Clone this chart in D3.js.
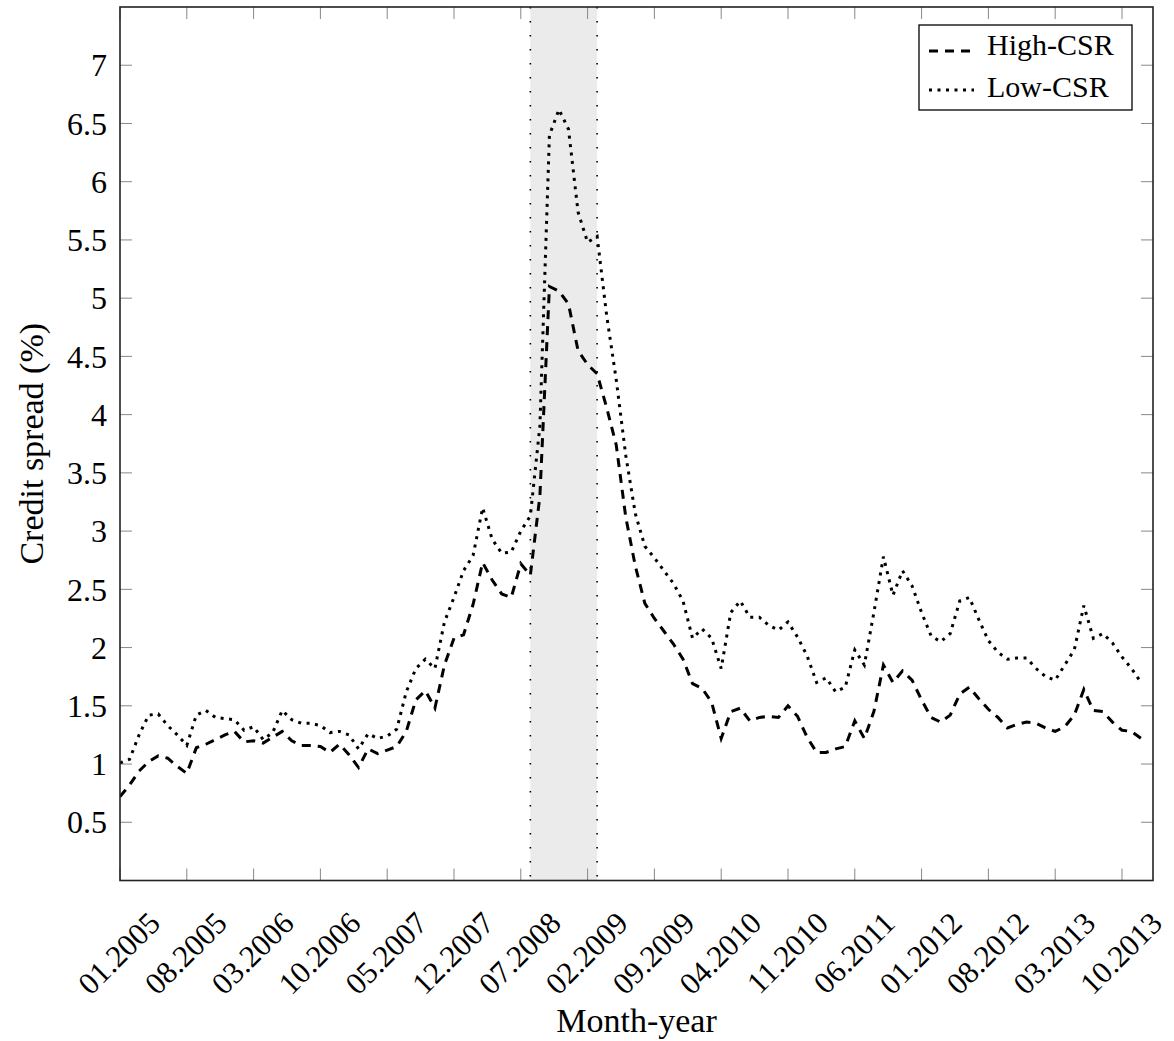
<!DOCTYPE html>
<html lang="en">
<head>
    <meta charset="UTF-8">
    <title>Credit spread</title>
    <script src="https://d3js.org/d3.v7.min.js"></script>
    <style>
        body { margin: 0; background: #fff; }
        text { font-family: "Liberation Serif", "DejaVu Serif", serif; fill: #000; }
    </style>
</head>
<body>
    <script>
        // monthly credit spreads (%), 01.2005 .. 12.2013
        var highCSR = [0.72,0.82,0.94,1.02,1.07,1.05,0.98,0.92,1.14,1.17,
            1.21,1.25,1.28,1.19,1.20,1.18,1.23,1.28,1.20,1.16,
            1.16,1.15,1.10,1.17,1.08,0.97,1.13,1.09,1.12,1.15,
            1.28,1.55,1.63,1.48,1.85,2.08,2.11,2.37,2.73,2.58,
            2.46,2.43,2.72,2.62,3.30,5.10,5.06,4.95,4.55,4.43,
            4.35,4.06,3.74,3.12,2.70,2.38,2.25,2.14,2.03,1.90,
            1.69,1.65,1.53,1.22,1.45,1.48,1.37,1.40,1.41,1.40,
            1.50,1.41,1.23,1.10,1.10,1.13,1.15,1.37,1.22,1.45,
            1.85,1.70,1.80,1.72,1.55,1.40,1.36,1.42,1.60,1.66,
            1.56,1.47,1.40,1.31,1.34,1.36,1.35,1.31,1.28,1.32,
            1.42,1.64,1.46,1.45,1.36,1.29,1.28,1.22];

        var lowCSR = [1.01,1.04,1.25,1.42,1.43,1.33,1.25,1.16,1.42,1.46,
            1.40,1.39,1.38,1.29,1.32,1.21,1.27,1.46,1.38,1.35,
            1.35,1.33,1.27,1.28,1.25,1.13,1.26,1.22,1.24,1.30,
            1.62,1.82,1.90,1.82,2.22,2.43,2.66,2.79,3.20,2.93,
            2.81,2.82,3.00,3.13,3.90,6.40,6.62,6.45,5.74,5.48,
            5.53,4.85,4.30,3.65,3.15,2.87,2.77,2.66,2.55,2.40,
            2.08,2.16,2.08,1.82,2.30,2.40,2.26,2.26,2.19,2.15,
            2.22,2.09,1.93,1.70,1.74,1.62,1.66,1.98,1.85,2.30,
            2.78,2.45,2.66,2.53,2.30,2.10,2.05,2.12,2.40,2.43,
            2.24,2.06,1.96,1.90,1.91,1.91,1.82,1.75,1.72,1.85,
            1.98,2.36,2.08,2.12,2.04,1.92,1.82,1.70];

        // x tick labels, one every 7 months from 01.2005
        var xTickLabels = ['01.2005','08.2005','03.2006','10.2006','05.2007','12.2007',
            '07.2008','02.2009','09.2009','04.2010','11.2010','06.2011',
            '01.2012','08.2012','03.2013','10.2013'];
        var yTicks = [0.5,1,1.5,2,2.5,3,3.5,4,4.5,5,5.5,6,6.5,7];
        var crisis = [43, 50]; // 08.2008 .. 03.2009 (month index)

        var width = 1174, height = 1041;
        var mLeft = 120, mRight = 1153, mTop = 7, mBottom = 880.5;

        var svg = d3.select('body').append('svg')
            .attr('width', width)
            .attr('height', height);

        var x = d3.scaleLinear().domain([0, 108.25]).range([mLeft, mRight]);
        var y = d3.scaleLinear().domain([0, 7.5]).range([mBottom, mTop]);

        svg.append('clipPath').attr('id', 'plot')
            .append('rect')
            .attr('x', mLeft).attr('y', mTop)
            .attr('width', mRight - mLeft).attr('height', mBottom - mTop);

        // shaded crisis band
        svg.append('rect')
            .attr('x', x(crisis[0]))
            .attr('y', mTop)
            .attr('width', x(crisis[1]) - x(crisis[0]))
            .attr('height', mBottom - mTop)
            .attr('fill', '#ebebeb');
        svg.selectAll('.band-edge')
            .data(crisis)
            .enter()
            .append('line')
            .attr('x1', function (d) { return x(d); })
            .attr('x2', function (d) { return x(d); })
            .attr('y1', mTop)
            .attr('y2', mBottom)
            .attr('stroke', '#000')
            .attr('stroke-width', 1.6)
            .attr('stroke-dasharray', '1.6,12.4');

        // ticks on all four sides, pointing inward
        var xTickPos = xTickLabels.map(function (d, i) { return i * 7; });
        var tickLen = 12;
        var ticks = svg.append('g').attr('stroke', '#888').attr('stroke-width', 1);
        xTickPos.forEach(function (t) {
            ticks.append('line').attr('x1', x(t)).attr('x2', x(t)).attr('y1', mBottom).attr('y2', mBottom - tickLen);
            ticks.append('line').attr('x1', x(t)).attr('x2', x(t)).attr('y1', mTop).attr('y2', mTop + tickLen);
        });
        yTicks.forEach(function (t) {
            ticks.append('line').attr('x1', mLeft).attr('x2', mLeft + tickLen).attr('y1', y(t)).attr('y2', y(t));
            ticks.append('line').attr('x1', mRight).attr('x2', mRight - tickLen).attr('y1', y(t)).attr('y2', y(t));
        });

        // lines
        var line = d3.line()
            .x(function (d, i) { return x(i); })
            .y(function (d) { return y(d); });

        var plot = svg.append('g').attr('clip-path', 'url(#plot)');
        plot.append('path')
            .datum(highCSR)
            .attr('d', line)
            .attr('fill', 'none')
            .attr('stroke', '#000')
            .attr('stroke-width', 3)
            .attr('stroke-dasharray', '9,7');
        plot.append('path')
            .datum(lowCSR)
            .attr('d', line)
            .attr('fill', 'none')
            .attr('stroke', '#000')
            .attr('stroke-width', 3)
            .attr('stroke-dasharray', '3,5.5');

        // frame
        svg.append('rect')
            .attr('x', mLeft).attr('y', mTop)
            .attr('width', mRight - mLeft).attr('height', mBottom - mTop)
            .attr('fill', 'none')
            .attr('stroke', '#222')
            .attr('stroke-width', 1.6);

        // y tick labels
        svg.selectAll('.ylab')
            .data(yTicks)
            .enter()
            .append('text')
            .attr('x', 107)
            .attr('y', function (d) { return y(d); })
            .attr('dy', '0.35em')
            .attr('text-anchor', 'end')
            .style('font-size', '32px')
            .text(function (d) { return d; });

        // x tick labels, rotated
        svg.selectAll('.xlab')
            .data(xTickLabels)
            .enter()
            .append('text')
            .attr('transform', function (d, i) {
                return 'translate(' + (x(xTickPos[i]) + 42) + ',925) rotate(-45)';
            })
            .attr('text-anchor', 'end')
            .style('font-size', '31px')
            .text(function (d) { return d; });

        // axis titles
        svg.append('text')
            .attr('x', (mLeft + mRight) / 2)
            .attr('y', 1032)
            .attr('text-anchor', 'middle')
            .style('font-size', '34px')
            .text('Month-year');
        svg.append('text')
            .attr('transform', 'translate(43,' + ((mTop + mBottom) / 2) + ') rotate(-90)')
            .attr('text-anchor', 'middle')
            .style('font-size', '34px')
            .text('Credit spread (%)');

        // legend
        var legend = svg.append('g');
        legend.append('rect')
            .attr('x', 919).attr('y', 25)
            .attr('width', 213).attr('height', 85)
            .attr('fill', '#fff')
            .attr('stroke', '#000')
            .attr('stroke-width', 1.3);
        var entries = [['High-CSR', '9,7', 51, 55], ['Low-CSR', '3,5.5', 90, 97]];
        entries.forEach(function (e) {
            legend.append('line')
                .attr('x1', 929).attr('x2', 974)
                .attr('y1', e[2]).attr('y2', e[2])
                .attr('stroke', '#000')
                .attr('stroke-width', 3)
                .attr('stroke-dasharray', e[1]);
            legend.append('text')
                .attr('x', 987).attr('y', e[3])
                .style('font-size', '30px')
                .text(e[0]);
        });
    </script>
</body>
</html>
